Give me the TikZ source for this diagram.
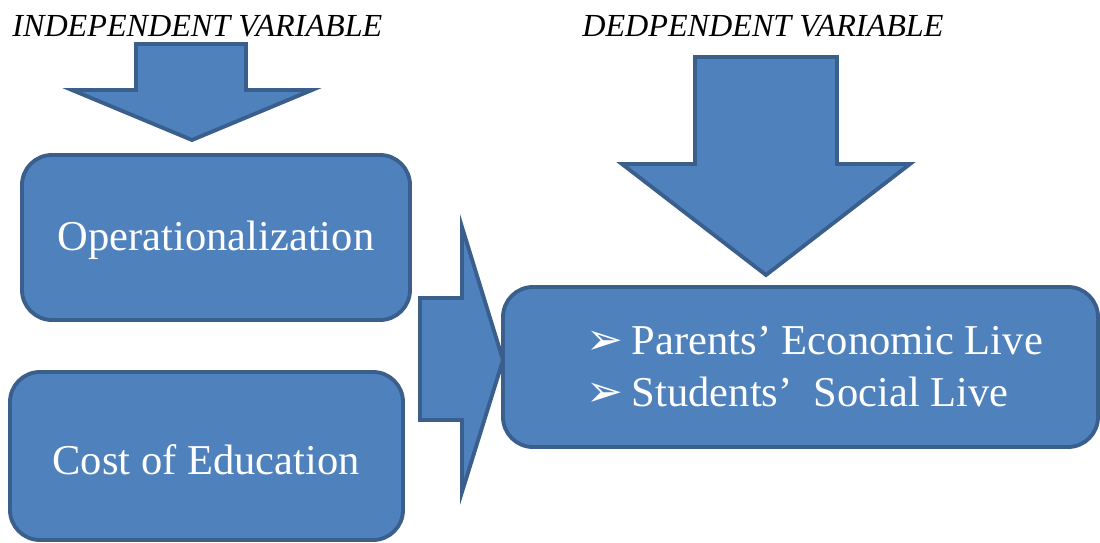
\documentclass[tikz,border=0pt]{standalone}
\usepackage{fontspec}
\setmainfont{Liberation Serif}
\newfontfamily\bulletfont{DejaVu Sans}
\definecolor{boxblue}{HTML}{4F81BD}
\definecolor{edgeblue}{HTML}{3A5F8C}

\begin{document}
\begin{tikzpicture}[x=0.02cm, y=-0.02cm,
    block/.style={draw=edgeblue, fill=boxblue, line width=2.2pt, rounded corners=0.6cm},
    bigarrow/.style={draw=edgeblue, fill=boxblue, line width=2.2pt, line join=miter},
    boxtext/.style={text=white, font=\fontsize{24.2}{28}\selectfont},
    heading/.style={font=\fontsize{18.3}{22}\selectfont\itshape}]
    \useasboundingbox (0,0) rectangle (1100,543);

    % Label the two variables
    \node[heading, anchor=base west, inner sep=0pt] (indep) at (12,37) {INDEPENDENT VARIABLE};
    \node[heading, anchor=base west, inner sep=0pt] (dep) at (582,37) {DEDPENDENT VARIABLE};

    % Down arrows below the labels
    \draw[bigarrow] (136,44) -- (246,44) -- (246,90) -- (312,90) -- (192,140)
        -- (72,90) -- (136,90) -- cycle;
    \draw[bigarrow] (695,57) -- (837,57) -- (837,164) -- (910,164) -- (766,275)
        -- (622,164) -- (695,164) -- cycle;

    % Boxes of the independent variable
    \draw[block] (22,155) rectangle (410,320);
    \node[boxtext] (oper) at (216,240) {Operationalization};
    \draw[block] (10,372) rectangle (403,540);
    \node[boxtext] (cost) at (206,460) {Cost of Education};

    % Box of the dependent variable
    \draw[block] (503,287) rectangle (1098,447);
    \node[boxtext, anchor=base west, inner sep=0pt] (parents) at (586,355)
        {{\bulletfont\fontsize{25}{28}\selectfont ➢}\hspace{5pt}Parents’ Economic Live};
    \node[boxtext, anchor=base west, inner sep=0pt] (students) at (586,407)
        {{\bulletfont\fontsize{25}{28}\selectfont ➢}\hspace{5pt}Students’\ \ Social Live};

    % Right arrow into the dependent box
    \draw[bigarrow] (420,298) -- (462,298) -- (462,227) -- (503,360) -- (462,492)
        -- (462,420) -- (420,420) -- cycle;
\end{tikzpicture}
\end{document}
